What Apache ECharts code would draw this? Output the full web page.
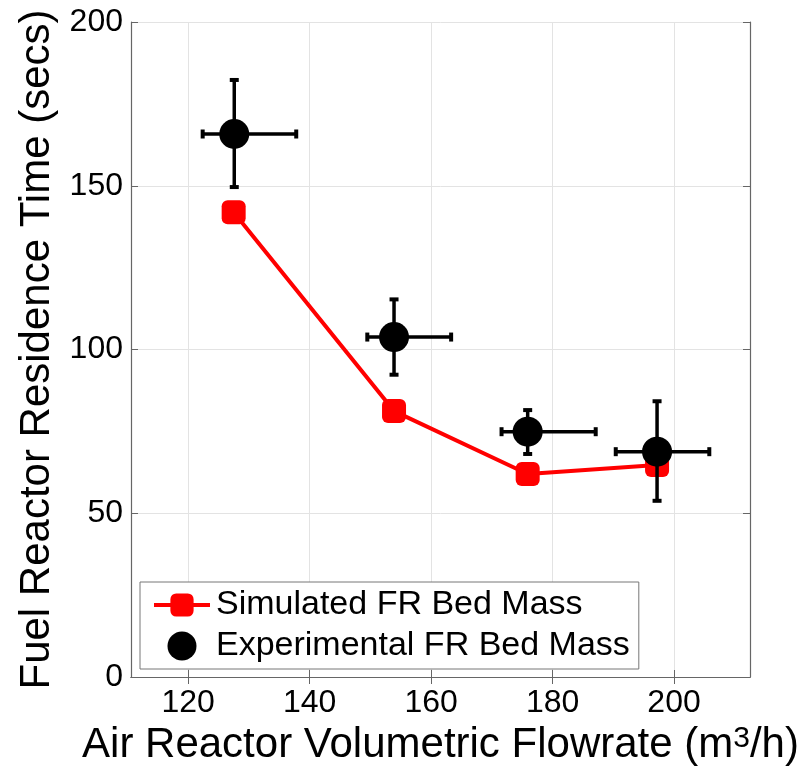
<!DOCTYPE html>
<html>
<head>
<meta charset="utf-8">
<script src="https://cdn.jsdelivr.net/npm/echarts@6/dist/echarts.min.js"></script>
<style>
html,body{margin:0;padding:0;background:#fff;}
#chart{width:812px;height:774px;}
</style>
</head>
<body>
<div id="chart"></div>
<script>
// ---- data ----
const xTicks = [120, 140, 160, 180, 200];
const yTicks = [0, 50, 100, 150, 200];

const simX = [127.5, 153.9, 175.9, 197.2];
const simY = [141.9, 81.2, 62.0, 64.7];

const expX = [127.6, 153.9, 175.9, 197.2];
const expY = [165.8, 103.8, 74.9, 68.8];
const expXLow = [122.4, 149.5, 171.6, 190.4];
const expXHigh = [137.8, 163.3, 187.1, 205.8];
const expYLow = [149.6, 92.3, 68.1, 53.8];
const expYHigh = [182.3, 115.3, 81.5, 84.2];

const simName = 'Simulated FR Bed Mass';
const expName = 'Experimental FR Bed Mass';

// ---- build ----
const FONT = '"Liberation Sans", Arial, sans-serif';
const axisColor = '#666';
const X_MIN = 110.6, X_MAX = 212.5;

const simData = simX.map((x, i) => [x, simY[i]]);
const expData = expX.map((x, i) => [x, expY[i]]);
const errData = expX.map((x, i) => [x, expY[i], expXLow[i], expXHigh[i], expYLow[i], expYHigh[i]]);

function renderErr(params, api) {
  const x = api.value(0), y = api.value(1);
  const xl = api.value(2), xh = api.value(3), yl = api.value(4), yh = api.value(5);
  const pL = api.coord([xl, y]), pR = api.coord([xh, y]);
  const pB = api.coord([x, yl]), pT = api.coord([x, yh]);
  const st = { stroke: '#000', lineWidth: 3.5, lineCap: 'butt' };
  const capSt = { stroke: '#000', lineWidth: 4, lineCap: 'butt' };
  const c = 4.5;
  return {
    type: 'group',
    children: [
      { type: 'line', shape: { x1: pL[0], y1: pL[1], x2: pR[0], y2: pR[1] }, style: st },
      { type: 'line', shape: { x1: pB[0], y1: pB[1], x2: pT[0], y2: pT[1] }, style: st },
      { type: 'line', shape: { x1: pL[0], y1: pL[1] - c, x2: pL[0], y2: pL[1] + c }, style: capSt },
      { type: 'line', shape: { x1: pR[0], y1: pR[1] - c, x2: pR[0], y2: pR[1] + c }, style: capSt },
      { type: 'line', shape: { x1: pB[0] - c, y1: pB[1], x2: pB[0] + c, y2: pB[1] }, style: capSt },
      { type: 'line', shape: { x1: pT[0] - c, y1: pT[1], x2: pT[0] + c, y2: pT[1] }, style: capSt }
    ]
  };
}

const chart = echarts.init(document.getElementById('chart'), null, { renderer: 'canvas' });

const baseAxisLine = { show: true, lineStyle: { color: axisColor, width: 1.2 } };
const innerTick = { show: true, inside: true, length: 7, lineStyle: { color: axisColor, width: 1 } };

chart.setOption({
  animation: false,
  backgroundColor: '#fff',
  textStyle: { fontFamily: FONT },
  grid: { left: 131, right: 62, top: 22, bottom: 97, containLabel: false },
  legend: {
    data: [simName, expName],
    orient: 'vertical',
    left: 140,
    top: 582,
    padding: [6, 9, 6, 12],
    itemGap: 7,
    itemWidth: 56,
    itemHeight: 29,
    backgroundColor: '#fff',
    borderColor: '#777',
    borderWidth: 1,
    borderRadius: 0,
    lineStyle: { width: 4 },
    textStyle: { fontSize: 34, color: '#000', fontFamily: FONT, lineHeight: 34, padding: [0, 0, 0, 1] }
  },
  xAxis: [
    {
      type: 'value', min: X_MIN, max: X_MAX,
      name: 'Air Reactor Volumetric Flowrate (m{sup|3}/h)',
      nameLocation: 'middle', nameGap: 47,
      nameTextStyle: {
        fontSize: 42, color: '#000', fontFamily: FONT,
        rich: { sup: { fontSize: 30, color: '#000', fontFamily: FONT, verticalAlign: 'top', lineHeight: 12 } }
      },
      axisLine: baseAxisLine,
      axisTick: Object.assign({}, innerTick, { customValues: xTicks }),
      axisLabel: { customValues: xTicks, fontSize: 32, color: '#000', margin: 10, fontFamily: FONT },
      splitLine: { show: true, lineStyle: { color: '#e3e3e3', width: 1 } }
    },
    {
      type: 'value', min: X_MIN, max: X_MAX, position: 'top',
      axisLine: baseAxisLine,
      axisTick: Object.assign({}, innerTick, { customValues: xTicks }),
      axisLabel: { show: false, customValues: xTicks },
      splitLine: { show: false }
    }
  ],
  yAxis: [
    {
      type: 'value', min: 0, max: 200, interval: 50,
      name: 'Fuel Reactor Residence Time (secs)',
      nameLocation: 'middle', nameGap: 68,
      nameTextStyle: { fontSize: 42, color: '#000', fontFamily: FONT },
      axisLine: baseAxisLine,
      axisTick: innerTick,
      axisLabel: { fontSize: 32, color: '#000', margin: 8, fontFamily: FONT,
        formatter: v => (yTicks.indexOf(v) >= 0 ? String(v) : '') },
      splitLine: { show: true, lineStyle: { color: '#e3e3e3', width: 1 } }
    },
    {
      type: 'value', min: 0, max: 200, interval: 50, position: 'right',
      axisLine: baseAxisLine,
      axisTick: innerTick,
      axisLabel: { show: false },
      splitLine: { show: false }
    }
  ],
  series: [
    {
      name: simName, type: 'line', data: simData,
      symbol: 'roundRect', symbolSize: 24,
      lineStyle: { color: '#ff0000', width: 4 },
      itemStyle: { color: '#ff0000' },
      z: 2
    },
    {
      name: 'errbars', type: 'custom', data: errData,
      encode: { x: [0, 2, 3], y: [1, 4, 5] },
      renderItem: renderErr,
      z: 3, silent: true
    },
    {
      name: expName, type: 'scatter', data: expData,
      symbol: 'circle', symbolSize: 30,
      itemStyle: { color: '#000', opacity: 1 },
      z: 4
    }
  ]
});
</script>
</body>
</html>
